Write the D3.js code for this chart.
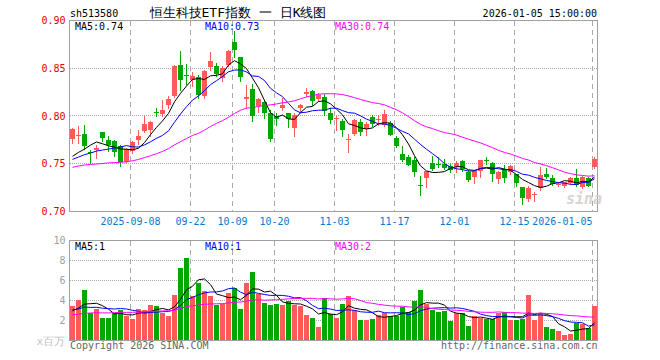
<!DOCTYPE html>
<html><head><meta charset="utf-8">
<script src="https://cdn.jsdelivr.net/npm/d3@7/dist/d3.min.js"></script>
<style>
html,body{margin:0;padding:0;background:#fff;}
svg{display:block;}
text{font-family:"DejaVu Sans Mono",monospace;}
</style></head>
<body>
<svg id="chart" width="660" height="360"></svg>
<script>
const symbol = "sh513580";
const title = "恒生科技ETF指数 一 日K线图";
const stamp = "2026-01-05 15:00:00";

const dates = [
"2025-08-25","2025-08-26","2025-08-27","2025-08-28","2025-08-29",
"2025-09-01","2025-09-02","2025-09-03","2025-09-04","2025-09-05",
"2025-09-08","2025-09-09","2025-09-10","2025-09-11","2025-09-12",
"2025-09-15","2025-09-16","2025-09-17","2025-09-18","2025-09-19",
"2025-09-22","2025-09-23","2025-09-24","2025-09-25","2025-09-26",
"2025-09-29","2025-09-30","2025-10-09","2025-10-10",
"2025-10-13","2025-10-14","2025-10-15","2025-10-16","2025-10-17",
"2025-10-20","2025-10-21","2025-10-22","2025-10-23","2025-10-24",
"2025-10-27","2025-10-28","2025-10-29","2025-10-30","2025-10-31",
"2025-11-03","2025-11-04","2025-11-05","2025-11-06","2025-11-07",
"2025-11-10","2025-11-11","2025-11-12","2025-11-13","2025-11-14",
"2025-11-17","2025-11-18","2025-11-19","2025-11-20","2025-11-21",
"2025-11-24","2025-11-25","2025-11-26","2025-11-27","2025-11-28",
"2025-12-01","2025-12-02","2025-12-03","2025-12-04","2025-12-05",
"2025-12-08","2025-12-09","2025-12-10","2025-12-11","2025-12-12",
"2025-12-15","2025-12-16","2025-12-17","2025-12-18","2025-12-19",
"2025-12-22","2025-12-23","2025-12-24","2025-12-25","2025-12-26",
"2025-12-29","2025-12-30","2025-12-31","2026-01-05"];

const opens = [
0.776,0.7795,0.7815,0.7625,0.764,0.7829,0.7752,0.7734,0.769,0.7522,
0.7635,0.7752,0.7839,0.7857,0.8045,0.8025,0.812,0.821,0.8529,0.843,
0.8382,0.8406,0.8214,0.8511,0.8521,0.840,0.8539,0.8777,0.8613,0.818,
0.8287,0.8105,0.8147,0.8032,0.7995,0.808,0.8032,0.7875,0.808,0.8235,
0.8266,0.818,0.820,0.8035,0.7965,0.7944,0.775,0.7812,0.7934,0.7865,
0.7985,0.796,0.791,0.7927,0.777,0.7602,0.7566,0.7542,0.7275,0.735,
0.7508,0.7502,0.7497,0.7472,0.7462,0.7525,0.7413,0.7357,0.742,0.7535,
0.7508,0.7343,0.7445,0.7415,0.7395,0.7259,0.7135,0.718,0.7245,0.7395,
0.7355,0.7276,0.727,0.7298,0.735,0.7256,0.735,0.7464];
const highs = [
0.787,0.790,0.791,0.764,0.770,0.783,0.7787,0.7752,0.770,0.766,
0.774,0.7857,0.800,0.795,0.8085,0.8172,0.8206,0.853,0.8678,0.8546,
0.8458,0.8434,0.8486,0.8668,0.8557,0.852,0.8686,0.8885,0.862,0.832,
0.833,0.819,0.817,0.8067,0.8032,0.819,0.8032,0.8032,0.813,0.8295,
0.8277,0.8245,0.8235,0.8085,0.7997,0.797,0.7814,0.797,0.797,0.7934,
0.801,0.8007,0.8067,0.7944,0.7787,0.769,0.7595,0.757,0.7367,0.742,
0.7577,0.7566,0.7553,0.750,0.7525,0.7542,0.7437,0.7437,0.7542,0.7566,
0.7518,0.742,0.7483,0.749,0.7395,0.7259,0.7262,0.7203,0.7462,0.7452,
0.7378,0.730,0.7305,0.7365,0.7445,0.737,0.736,0.757];
const lows = [
0.772,0.772,0.7655,0.751,0.756,0.7734,0.763,0.7577,0.7472,0.7515,
0.761,0.771,0.7829,0.7787,0.800,0.800,0.8085,0.820,0.8277,0.834,
0.8311,0.819,0.819,0.8486,0.8424,0.8364,0.852,0.862,0.8364,0.8085,
0.7944,0.804,0.7982,0.7742,0.791,0.806,0.789,0.7787,0.804,0.8205,
0.812,0.816,0.8014,0.7927,0.7857,0.7787,0.7619,0.7805,0.7805,0.7805,
0.790,0.791,0.790,0.7805,0.768,0.7525,0.7483,0.7367,0.7168,0.7252,
0.7437,0.7462,0.7448,0.7417,0.7413,0.7427,0.7315,0.7298,0.7357,0.7497,
0.7315,0.7298,0.7308,0.7392,0.7262,0.7078,0.7112,0.7112,0.7228,0.735,
0.728,0.7265,0.726,0.729,0.7262,0.7245,0.7262,0.7455];
const closes = [
0.786,0.7805,0.769,0.762,0.7665,0.7766,0.770,0.7619,0.7521,0.7655,
0.773,0.7787,0.7913,0.794,0.8035,0.8067,0.818,0.852,0.8382,0.842,
0.8417,0.8224,0.8469,0.8573,0.8445,0.8504,0.8678,0.8696,0.841,0.8195,
0.800,0.8175,0.8035,0.776,0.797,0.811,0.797,0.8014,0.811,0.8255,
0.8154,0.8225,0.805,0.7955,0.7975,0.7857,0.7755,0.7962,0.7829,0.7915,
0.7915,0.797,0.8022,0.7805,0.7682,0.7535,0.749,0.7413,0.727,0.742,
0.7448,0.7498,0.7455,0.7437,0.7508,0.7448,0.7333,0.7427,0.7535,0.753,
0.7395,0.7411,0.735,0.7472,0.7303,0.7143,0.7248,0.7188,0.738,0.7363,
0.7284,0.7286,0.7305,0.7346,0.728,0.7361,0.7262,0.7554];
// volume, x 百万
const volumes = [
3.5,4.07,5.07,2.8,3.17,2.3,2.3,2.74,3.07,2.5,
2.17,3.17,3.07,3.57,3.47,2.74,2.47,4.57,7.3,8.3,
4.47,5.74,4.97,4.47,3.57,3.67,4.77,5.24,3.14,5.8,
6.84,4.67,3.8,3.57,3.67,3.57,3.97,3.57,3.47,2.57,
2.24,1.4,4.3,2.67,2.3,3.67,4.47,3.07,2.07,2.07,
2.17,2.57,2.74,2.47,2.5,3.34,2.9,3.97,5.07,3.67,
3.07,2.9,3.0,2.0,2.74,2.74,1.5,2.47,2.3,2.17,
2.14,2.74,2.84,2.07,2.07,2.17,4.6,2.07,2.8,1.4,
1.14,0.97,0.57,0.67,1.8,1.67,1.24,3.47];
// 29 sessions before the window (estimated from the MA lines), used only for moving averages
const priorCloses = [0.738,0.739,0.745,0.752,0.758,0.755,0.750,0.744,0.748,0.742,
0.737,0.733,0.736,0.740,0.735,0.730,0.734,0.738,0.742,0.746,
0.756,0.744,0.745,0.7455,0.766,0.760,0.752,0.741,0.750];
const priorVolumes = [2.1,2.5,2.0,2.4,2.8,2.2,1.9,2.3,2.6,2.0,
2.4,2.7,2.1,2.5,2.2,2.0,2.6,2.3,2.5,2.3,
3.4,2.9,3.3,3.0,3.25,2.7,3.1,2.6,2.96];

const priceTicks = [0.70,0.75,0.80,0.85,0.90];
const volumeTicks = [2,4,6,8,10];
const dateTicks = ["2025-09-08","2025-09-22","2025-10-09","2025-10-20","2025-11-03","2025-11-17","2025-12-01","2025-12-15","2026-01-05"];
const dateTickLabels = ["2025-09-08","09-22","10-09","10-20","11-03","11-17","12-01","12-15","2026-01-05"];
const maPeriods = [5,10,30];
const maColors = ["#000000","#0000ff","#ff00ff"];

const RED = "#ff5a5a", GREEN = "#00a800", GRID = "#aaaaaa", BORDER = "#a0a0a0";
const svg = d3.select("#chart");

const x = d3.scaleBand().domain(dates).range([70, 70 + 6 * dates.length]).padding(0);
const bw = x.bandwidth() - 1;
const cx = d => x(d) + 2.5;
const yP = d3.scaleLinear().domain([0.70, 0.90]).range([211.5, 20.5]);
const yV = d3.scaleLinear().domain([0, 10]).range([340.5, 240.5]);

const L = 69.5, R = 597.5;

function movingAvg(prior, vals, n) {
  const all = prior.concat(vals), off = prior.length;
  return vals.map((_, i) => d3.mean(all.slice(off + i - n + 1, off + i + 1)));
}

const bars = dates.map((d, i) => ({d, o: opens[i], h: highs[i], l: lows[i], c: closes[i], v: volumes[i], up: closes[i] >= opens[i]}));

// ---- grids ----
function panelGrid(top, bottom, hVals, yScale) {
  const g = svg.append("g");
  g.selectAll("line.h").data(hVals).join("line")
    .attr("x1", L).attr("x2", R)
    .attr("y1", v => Math.round(yScale(v) - 0.5) + 0.5).attr("y2", v => Math.round(yScale(v) - 0.5) + 0.5)
    .attr("stroke", GRID).attr("stroke-dasharray", "1,1").attr("shape-rendering", "crispEdges");
  g.selectAll("line.v").data(dateTicks).join("line")
    .attr("x1", d => x(d) + 0.5).attr("x2", d => x(d) + 0.5)
    .attr("y1", top).attr("y2", bottom)
    .attr("stroke", GRID).attr("stroke-dasharray", "5,4").attr("shape-rendering", "crispEdges");
}
panelGrid(21, 211, [0.75, 0.80, 0.85], yP);
panelGrid(241, 340, [2, 4, 6, 8], yV);

// ---- candles ----
const cg = svg.append("g").attr("shape-rendering", "crispEdges");
cg.selectAll("line.w").data(bars).join("line")
  .attr("x1", b => cx(b.d)).attr("x2", b => cx(b.d))
  .attr("y1", b => Math.round(yP(b.h))).attr("y2", b => Math.round(yP(b.l)) + 1)
  .attr("stroke", b => b.up ? RED : GREEN);
cg.selectAll("rect.b").data(bars).join("rect")
  .attr("x", b => x(b.d)).attr("width", bw)
  .attr("y", b => Math.round(yP(Math.max(b.o, b.c))))
  .attr("height", b => Math.max(1, Math.round(yP(Math.min(b.o, b.c))) - Math.round(yP(Math.max(b.o, b.c)))))
  .attr("fill", b => b.up ? RED : GREEN);

// ---- volume bars ----
svg.append("g").attr("shape-rendering", "crispEdges")
  .selectAll("rect").data(bars).join("rect")
  .attr("x", b => x(b.d)).attr("width", bw)
  .attr("y", b => Math.round(yV(b.v)))
  .attr("height", b => 340.5 - Math.round(yV(b.v)))
  .attr("fill", b => b.up ? RED : GREEN);

// ---- moving averages ----
const priceMAs = maPeriods.map(n => movingAvg(priorCloses, closes, n));
const volMAs = maPeriods.map(n => movingAvg(priorVolumes, volumes, n));
const lineP = d3.line().x((v, i) => cx(dates[i])).y(v => yP(v));
const lineV = d3.line().x((v, i) => cx(dates[i])).y(v => yV(v));
priceMAs.forEach((m, k) => svg.append("path").attr("d", lineP(m)).attr("fill", "none").attr("stroke", maColors[k]).attr("stroke-width", 1));
volMAs.forEach((m, k) => svg.append("path").attr("d", lineV(m)).attr("fill", "none").attr("stroke", maColors[k]).attr("stroke-width", 1));

// ---- borders ----
svg.append("rect").attr("x", L).attr("y", 20.5).attr("width", R - L).attr("height", 191)
  .attr("fill", "none").attr("stroke", BORDER).attr("shape-rendering", "crispEdges");
svg.append("rect").attr("x", L).attr("y", 240.5).attr("width", R - L).attr("height", 100)
  .attr("fill", "none").attr("stroke", BORDER).attr("shape-rendering", "crispEdges");

// ---- axes ----
const ay = svg.append("g").attr("transform", `translate(${L},0)`)
  .call(d3.axisLeft(yP).tickValues(priceTicks).tickFormat(d3.format(".2f")).tickSize(0).tickPadding(4));
ay.select(".domain").remove();
ay.selectAll("text").attr("font-family", "DejaVu Sans Mono").attr("font-size", 10).attr("fill", "#e00000");

const av = svg.append("g").attr("transform", `translate(${L},0)`)
  .call(d3.axisLeft(yV).tickValues(volumeTicks).tickFormat(d3.format("d")).tickSize(0).tickPadding(4));
av.select(".domain").remove();
av.selectAll("text").attr("font-family", "DejaVu Sans Mono").attr("font-size", 10).attr("fill", "#a0a0a0");

const ax = svg.append("g").attr("transform", "translate(0,211.5)")
  .call(d3.axisBottom(x).tickValues(dateTicks).tickFormat(d => dateTickLabels[dateTicks.indexOf(d)]).tickSize(0));
ax.select(".domain").remove();
ax.selectAll(".tick").attr("transform", d => `translate(${x(d) + 0.5},0)`);
ax.selectAll("text").attr("font-family", "DejaVu Sans Mono").attr("font-size", 10).attr("fill", "#0a78d2")
  .attr("y", 13.5).attr("dy", 0)
  .attr("text-anchor", (d, i) => i === dateTicks.length - 1 ? "end" : "middle");

// ---- header texts ----
const mono = (sel) => sel.attr("font-family", "DejaVu Sans Mono").attr("font-size", 10);
svg.append("text").text(symbol).attr("x", 70).attr("y", 16.5).call(mono).attr("fill", "#000");
svg.append("text").text(stamp).attr("x", 597).attr("y", 16.5).attr("text-anchor", "end").call(mono).attr("fill", "#000");
svg.append("text").text(title).attr("x", 238).attr("y", 17).attr("text-anchor", "middle")
  .attr("font-family", "Noto Sans CJK SC").attr("font-size", 13).attr("fill", "#000");

const labelX = [75, 205, 335];
maPeriods.forEach((n, k) => {
  svg.append("text").text(`MA${n}:${d3.format(".2f")(priceMAs[k][closes.length - 1])}`)
    .attr("x", labelX[k]).attr("y", 30).call(mono).attr("fill", maColors[k]);
  svg.append("text").text(`MA${n}:${Math.floor(volMAs[k][volumes.length - 1])}`)
    .attr("x", labelX[k]).attr("y", 250).call(mono).attr("fill", maColors[k]);
});

// ---- footer ----
svg.append("text").text("x百万").attr("x", 65).attr("y", 344.5).attr("text-anchor", "end")
  .attr("font-family", "Noto Sans CJK SC").attr("font-size", 10.5).attr("fill", "#c0c0c0");
svg.append("text").text("Copyright 2026 SINA.COM").attr("x", 70).attr("y", 349).call(mono).attr("fill", "#666");
svg.append("text").text("http://finance.sina.com.cn").attr("x", 597.5).attr("y", 349).attr("text-anchor", "end").call(mono).attr("fill", "#666");

// watermark
svg.append("text").text("sina").attr("x", 566).attr("y", 204)
  .attr("font-family", "DejaVu Sans").attr("font-style", "italic").attr("font-weight", "bold")
  .attr("font-size", 15).attr("fill", "#d2cccc").attr("opacity", 0.85);
</script>
</body></html>
